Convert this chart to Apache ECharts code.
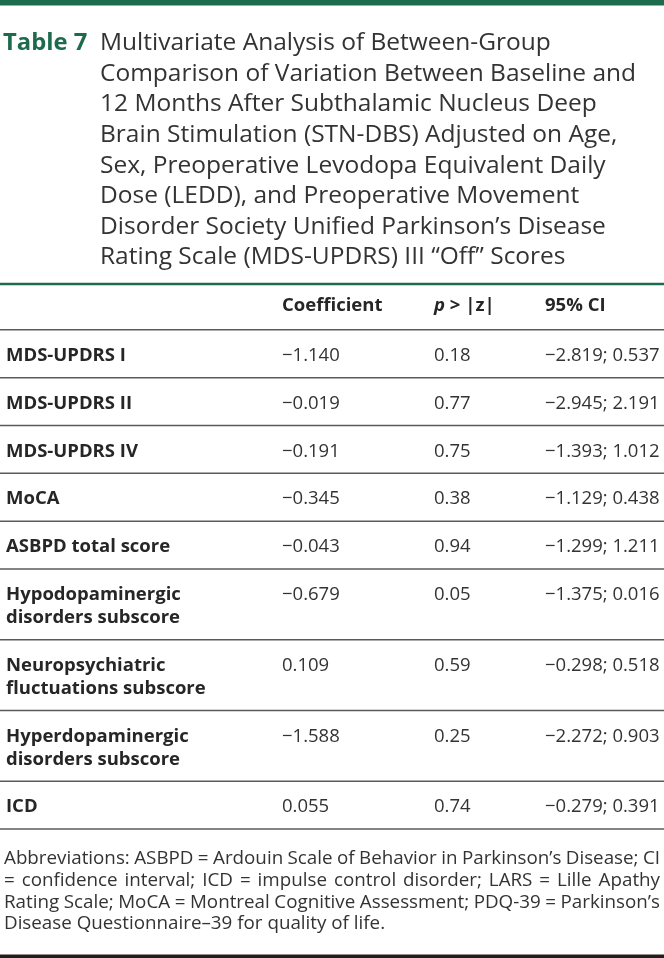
<!DOCTYPE html>
<html><head><meta charset="utf-8">
<script src="https://cdn.jsdelivr.net/npm/echarts@6/dist/echarts.min.js"></script>
<style>html,body{margin:0;padding:0;background:#fff}#c{width:664px;height:958px}</style>
</head><body><div id="c"></div>
<script>
// ---------- data ----------
const tableNumber = 'Table 7';
const titleLines = [
  'Multivariate Analysis of Between-Group',
  'Comparison of Variation Between Baseline and',
  '12 Months After Subthalamic Nucleus Deep',
  'Brain Stimulation (STN-DBS) Adjusted on Age,',
  'Sex, Preoperative Levodopa Equivalent Daily',
  'Dose (LEDD), and Preoperative Movement',
  'Disorder Society Unified Parkinson’s Disease',
  'Rating Scale (MDS-UPDRS) III “Off” Scores'
];
const columnHeaders = ['', 'Coefficient', 'p > |z|', '95% CI'];
const rowLabels = [
  ['MDS-UPDRS I'],
  ['MDS-UPDRS II'],
  ['MDS-UPDRS IV'],
  ['MoCA'],
  ['ASBPD total score'],
  ['Hypodopaminergic', 'disorders subscore'],
  ['Neuropsychiatric', 'fluctuations subscore'],
  ['Hyperdopaminergic', 'disorders subscore'],
  ['ICD']
];
const coefficients = [-1.140, -0.019, -0.191, -0.345, -0.043, -0.679, 0.109, -1.588, 0.055];
const pValues = [0.18, 0.77, 0.75, 0.38, 0.94, 0.05, 0.59, 0.25, 0.74];
const ciLow = [-2.819, -2.945, -1.393, -1.129, -1.299, -1.375, -0.298, -2.272, -0.279];
const ciHigh = [0.537, 2.191, 1.012, 0.438, 1.211, 0.016, 0.518, 0.903, 0.391];
const footnoteLines = [
  'Abbreviations: ASBPD = Ardouin Scale of Behavior in Parkinson’s Disease; CI',
  '= confidence interval; ICD = impulse control disorder; LARS = Lille Apathy',
  'Rating Scale; MoCA = Montreal Cognitive Assessment; PDQ-39 = Parkinson’s',
  'Disease Questionnaire–39 for quality of life.'
];

// ---------- styles ----------
const FONT = '"Open Sans", "Noto Sans", sans-serif';
const GREEN = '#1c6b4d';
const TEXT = '#333333';
const BOLD = '#262626';
const RULE = '#5a5a5a';
const FS = 18.5;
const colX = [6, 282, 434, 545];
const fmt = (v, d) => (v < 0 ? '\u2212' : '') + Math.abs(v).toFixed(d);

// row extents (in layout units) built from the number of label lines
const HEADER_U = 46, PAD_U = 25, LINE_U = 23;
const rows = [];
let acc = HEADER_U;
rowLabels.forEach((lab, i) => {
  const h = PAD_U + LINE_U * lab.length;
  rows.push([i, acc, acc + h]);
  acc += h;
});
const totalU = acc;

// ---------- footnote: justified words ----------
const cv = document.createElement('canvas').getContext('2d');
const FN_SIZE = 18.8;
cv.font = FN_SIZE + 'px ' + FONT;
const fnLeft = 4, fnRight = 660, fnBase = 859, fnLH = 21.7;
const footGraphics = [];
footnoteLines.forEach((line, li) => {
  const words = line.split(' ');
  const widths = words.map(w => cv.measureText(w).width);
  const sum = widths.reduce((a, b) => a + b, 0);
  const last = li === footnoteLines.length - 1;
  const gap = last ? cv.measureText(' ').width : (fnRight - fnLeft - sum) / (words.length - 1);
  let x = fnLeft;
  words.forEach((w, wi) => {
    footGraphics.push({
      type: 'text', x: x, y: fnBase + li * fnLH,
      style: { text: w, fill: TEXT, fontSize: FN_SIZE, fontFamily: FONT, verticalAlign: 'middle', align: 'left' }
    });
    x += widths[wi] + gap;
  });
});

const chart = echarts.init(document.getElementById('c'), null, { renderer: 'canvas' });
chart.setOption({
  animation: false,
  backgroundColor: '#ffffff',
  title: [
    { text: tableNumber, left: 3, top: 28, padding: 0,
      textStyle: { color: GREEN, fontSize: 23.8, fontWeight: 'bold', fontFamily: FONT, lineHeight: 30.6 } },
    { text: titleLines.join('\n'), left: 100, top: 28, padding: 0,
      textStyle: { color: TEXT, fontSize: 24.5, fontWeight: 'normal', fontFamily: FONT, lineHeight: 30.6 } }
  ],
  grid: { left: 0, right: 0, top: 284, height: 545 },
  xAxis: { type: 'value', min: 0, max: 664, show: false },
  yAxis: { type: 'value', min: 0, max: totalU, inverse: true, show: false },
  graphic: [
    { type: 'rect', shape: { x: 0, y: 0, width: 664, height: 5.5 }, style: { fill: GREEN } },
    { type: 'rect', shape: { x: 0, y: 954.5, width: 664, height: 3.5 }, style: { fill: '#1f1f1f' } }
  ].concat(footGraphics),
  series: [
    {
      type: 'custom',
      coordinateSystem: 'cartesian2d',
      data: [[-1, 0, HEADER_U]],
      renderItem: function (params, api) {
        const top = api.coord([0, api.value(1)]);
        const bot = api.coord([664, api.value(2)]);
        const mid = api.coord([0, api.value(1) + 21.5])[1];
        const st = { fill: BOLD, fontSize: FS, fontWeight: 'bold', fontFamily: FONT, verticalAlign: 'middle', align: 'left' };
        return {
          type: 'group',
          children: [
            { type: 'line', shape: { x1: 0, y1: top[1], x2: 664, y2: top[1] }, style: { stroke: GREEN, lineWidth: 2.5 } },
            { type: 'text', x: api.coord([colX[1], 0])[0], y: mid, style: Object.assign({ text: columnHeaders[1] }, st) },
            { type: 'text', x: api.coord([colX[2], 0])[0], y: mid,
              style: Object.assign({ text: '{i|p} > |z|', rich: { i: { fontStyle: 'italic', fontWeight: 'bold', fontSize: FS, fontFamily: FONT, fill: BOLD } } }, st) },
            { type: 'text', x: api.coord([colX[3], 0])[0], y: mid, style: Object.assign({ text: columnHeaders[3] }, st) },
            { type: 'line', shape: { x1: 0, y1: bot[1], x2: 664, y2: bot[1] }, style: { stroke: RULE, lineWidth: 1.5 } }
          ]
        };
      }
    },
    {
      type: 'custom',
      coordinateSystem: 'cartesian2d',
      data: rows,
      renderItem: function (params, api) {
        const i = api.value(0);
        const topU = api.value(1), botU = api.value(2);
        const y0 = api.coord([0, topU + 26])[1];
        const lineStep = api.coord([0, topU + 26 + LINE_U])[1] - y0;
        const yb = api.coord([0, botU])[1];
        const children = [];
        rowLabels[i].forEach((t, k) => {
          children.push({ type: 'text', x: api.coord([colX[0], 0])[0], y: y0 + k * lineStep,
            style: { text: t, fill: BOLD, fontSize: FS, fontWeight: 'bold', fontFamily: FONT, verticalAlign: 'middle', align: 'left' } });
        });
        const reg = { fill: TEXT, fontSize: FS, fontWeight: 'normal', fontFamily: FONT, verticalAlign: 'middle', align: 'left' };
        children.push({ type: 'text', x: api.coord([colX[1], 0])[0], y: y0, style: Object.assign({ text: fmt(coefficients[i], 3) }, reg) });
        children.push({ type: 'text', x: api.coord([colX[2], 0])[0], y: y0, style: Object.assign({ text: fmt(pValues[i], 2) }, reg) });
        children.push({ type: 'text', x: api.coord([colX[3], 0])[0], y: y0, style: Object.assign({ text: fmt(ciLow[i], 3) + '; ' + fmt(ciHigh[i], 3) }, reg) });
        children.push({ type: 'line', shape: { x1: 0, y1: yb, x2: 664, y2: yb }, style: { stroke: RULE, lineWidth: 1.5 } });
        return { type: 'group', children: children };
      }
    }
  ]
});
</script>
</body></html>
